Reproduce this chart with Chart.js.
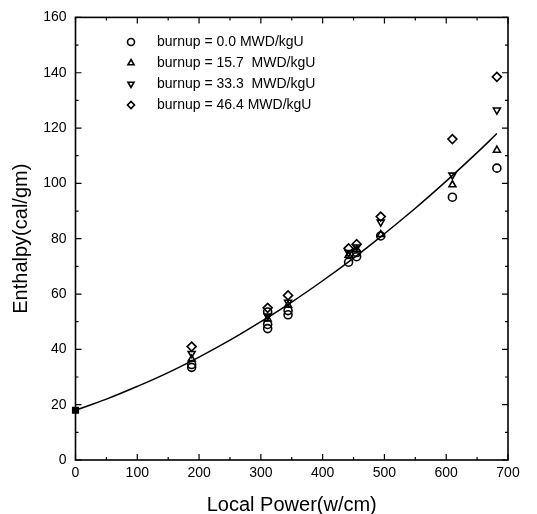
<!DOCTYPE html>
<html>
<head>
<meta charset="utf-8">
<script src="https://cdn.jsdelivr.net/npm/chart.js@4"></script>
<style>
  html, body { margin: 0; padding: 0; background: white; }
  #wrap { width: 537px; height: 514px; }
</style>
</head>
<body>
<div id="wrap"><canvas id="chart_enthalpy"></canvas></div>
<script>
// values
var labels = ['burnup = 0.0 MWD/kgU', 'burnup = 15.7  MWD/kgU', 'burnup = 33.3  MWD/kgU', 'burnup = 46.4 MWD/kgU'];

var burnup00X = [188, 188, 311, 311, 311, 344, 344, 442, 455, 455, 494, 610, 682];
var burnup00Y = [33.5, 34.5, 47.5, 49, 53.5, 52.5, 54, 71.5, 73.5, 75, 81, 95, 105.5];

var burnup157X = [188, 311, 344, 442, 455, 494, 610, 682];
var burnup157Y = [36.5, 51, 56, 74, 76, 81.5, 99.5, 112];

var burnup333X = [188, 311, 344, 442, 455, 494, 610, 682];
var burnup333Y = [38.5, 52, 57, 75, 77, 86, 103, 126.5];

var burnup464X = [188, 311, 344, 442, 455, 494, 610, 682];
var burnup464Y = [41, 55, 59.5, 76.5, 78, 88, 116, 138.5];

// fitted curve, read at intervals along the drawn line
var fitX = [0, 50, 100, 150, 200, 250, 300, 350, 400, 450, 500, 550, 600, 650, 682];
var fitY = [18, 22, 26.6, 31.6, 37.2, 43.3, 50, 57.1, 64.8, 73, 81.8, 91, 100.8, 111.1, 118];

var xTicks = [0, 100, 200, 300, 400, 500, 600, 700];
var yTicks = [0, 20, 40, 60, 80, 100, 120, 140, 160];

function pts(xs, ys) {
    return xs.map(function(x, i) { return { x: x, y: ys[i] }; });
}

var FONT = '"Liberation Sans", Arial, sans-serif';
Chart.defaults.font.family = FONT;
Chart.defaults.color = '#000';

function markerSet(label, xs, ys, style, rot) {
    return {
        label: label,
        data: pts(xs, ys),
        showLine: false,
        pointStyle: style,
        pointRotation: rot,
        pointRadius: style === 'rectRot' ? 4.5 : 4,
        borderColor: '#000',
        backgroundColor: 'rgba(0,0,0,0)',
        borderWidth: 1.6
    };
}

var chart_enthalpy = new Chart(document.getElementById('chart_enthalpy'), {
    type: 'scatter',
    data: {
        datasets: [
            markerSet(labels[0], burnup00X, burnup00Y, 'circle', 0),
            markerSet(labels[1], burnup157X, burnup157Y, 'triangle', 0),
            markerSet(labels[2], burnup333X, burnup333Y, 'triangle', 180),
            markerSet(labels[3], burnup464X, burnup464Y, 'rectRot', 0),
            {
                label: 'fit',
                data: pts(fitX, fitY),
                showLine: true,
                tension: 0.4,
                borderColor: '#000',
                borderWidth: 1.5,
                pointStyle: 'rect',
                pointRadius: function(ctx) { return ctx.dataIndex === 0 ? 4 : 0; },
                backgroundColor: '#000',
                clip: false
            }
        ]
    },
    options: {
        animation: false,
        responsive: true,
        maintainAspectRatio: false,
        layout: { padding: { top: 17, right: 29, left: 0, bottom: 0 } },
        plugins: {
            legend: { display: false },
            tooltip: { enabled: false }
        },
        scales: {
            x: {
                type: 'linear',
                min: 0,
                max: 700,
                afterBuildTicks: function(scale) {
                    scale.ticks = xTicks.map(function(v) { return { value: v }; });
                },
                afterFit: function(scale) { scale.height = 54; },
                grid: { display: false, drawTicks: false },
                border: { display: false },
                ticks: { padding: 5, font: { size: 14 }, color: '#000', maxRotation: 0 },
                title: { display: true, text: 'Local Power(w/cm)', font: { size: 20 }, padding: { top: 4, bottom: -3 } }
            },
            y: {
                type: 'linear',
                min: 0,
                max: 160,
                afterBuildTicks: function(scale) {
                    scale.ticks = yTicks.map(function(v) { return { value: v }; });
                },
                afterFit: function(scale) { scale.width = 75.5; },
                grid: { display: false, drawTicks: false },
                border: { display: false },
                ticks: { padding: 9, font: { size: 14 }, color: '#000' },
                title: { display: true, text: 'Enthalpy(cal/gm)', font: { size: 20 }, padding: { top: 9, bottom: 0 } }
            }
        }
    },
    plugins: [{
        id: 'frameAndLegend',
        beforeDraw: function(chart) {
            var ctx = chart.ctx;
            ctx.save();
            ctx.fillStyle = 'white';
            ctx.fillRect(0, 0, chart.width, chart.height);
            ctx.restore();
        },
        afterDatasetsDraw: function(chart) {
            var ctx = chart.ctx;
            var a = chart.chartArea;
            var xs = chart.scales.x, ys = chart.scales.y;
            ctx.save();
            ctx.strokeStyle = '#000';
            ctx.lineWidth = 1.6;
            ctx.strokeRect(a.left, a.top, a.right - a.left, a.bottom - a.top);
            ctx.lineWidth = 1.2;
            ctx.beginPath();
            for (var v = 0; v <= 700; v += 50) {
                var px = xs.getPixelForValue(v);
                var len = v % 100 === 0 ? 6 : 3;
                ctx.moveTo(px, a.bottom); ctx.lineTo(px, a.bottom - len);
                ctx.moveTo(px, a.top); ctx.lineTo(px, a.top + len);
            }
            for (var w = 0; w <= 160; w += 10) {
                var py = ys.getPixelForValue(w);
                var l2 = w % 20 === 0 ? 6 : 3;
                ctx.moveTo(a.left, py); ctx.lineTo(a.left + l2, py);
                ctx.moveTo(a.right, py); ctx.lineTo(a.right - l2, py);
            }
            ctx.stroke();

            // legend inside the plot
            var lx = 131, ly = 42, step = 21;
            ctx.font = '14px ' + FONT;
            ctx.textBaseline = 'middle';
            for (var i = 0; i < 4; i++) {
                var ds = chart.data.datasets[i];
                var y = ly + i * step;
                ctx.fillStyle = 'rgba(0,0,0,0)';
                ctx.strokeStyle = '#000';
                ctx.lineWidth = 1.6;
                Chart.helpers.drawPoint(ctx, {
                    pointStyle: ds.pointStyle,
                    rotation: ds.pointRotation,
                    radius: 3.5,
                    borderWidth: 1.6
                }, lx, y);
                ctx.fillStyle = '#000';
                ctx.fillText(ds.label, 157, y);
            }
            ctx.restore();
        }
    }]
});
</script>
</body>
</html>
